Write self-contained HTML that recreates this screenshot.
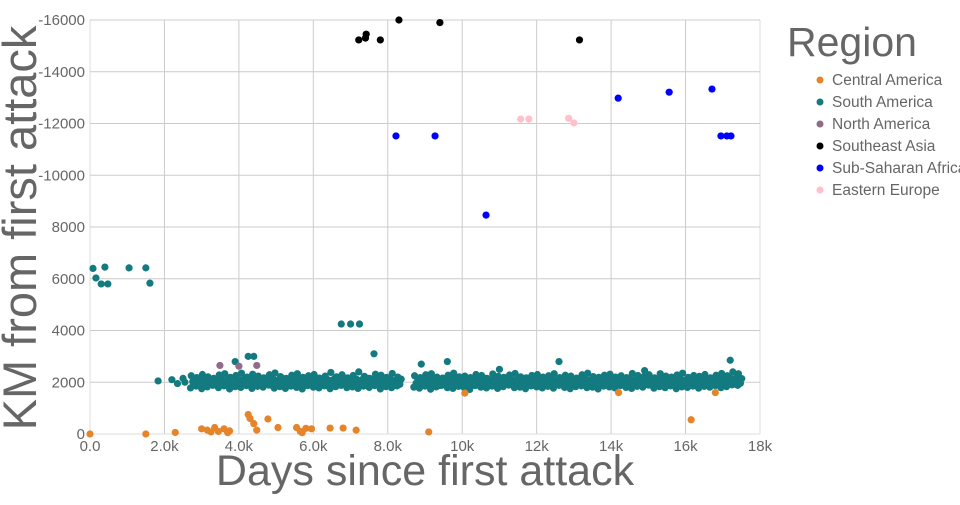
<!DOCTYPE html>
<html><head><meta charset="utf-8"><style>
body{margin:0;background:#fff;width:960px;height:500px;overflow:hidden}
svg text{font-family:"Liberation Sans",sans-serif;fill:#666}
</style></head><body>
<svg id="chart" width="960" height="500">
<g id="grid"></g><g id="marks"></g><g id="axes"></g>
<text x="36" y="228" font-size="47" text-anchor="middle" transform="rotate(-90 36 228)">KM from first attack</text>
<text x="425" y="485" font-size="43" text-anchor="middle">Days since first attack</text>
<text x="787" y="56" font-size="41">Region</text>
<g id="legend"></g>
</svg>
<script>
const regions=["Central America","South America","North America","Southeast Asia","Sub-Saharan Africa","Eastern Europe"];
const colors=["#e6842a","#137b80","#8e6c8a","#000000","#0000ff","#ffc0cb"];
const xTicks=[0,2000,4000,6000,8000,10000,12000,14000,16000,18000];
const xTickLabels=["0.0","2.0k","4.0k","6.0k","8.0k","10k","12k","14k","16k","18k"];
const yTicks=[0,2000,4000,6000,8000,10000,12000,14000,16000];
const yTickLabels=["0","2000","4000","6000","8000","-10000","-12000","-14000","-16000"];
const bandX=[2700,2850,3000,3150,3300,3450,3600,3750,3900,4050,4200,4350,4500,4650,4800,4950,5100,5250,5400,5550,5700,5850,6000,6150,6300,6450,6600,6750,6900,7050,7200,7350,7500,7650,7800,7950,8100,8250,8700,8850,9000,9150,9300,9450,9600,9750,9900,10050,10200,10350,10500,10650,10800,10950,11100,11250,11400,11550,11700,11850,12000,12150,12300,12450,12600,12750,12900,13050,13200,13350,13500,13650,13800,13950,14100,14250,14400,14550,14700,14850,15000,15150,15300,15450,15600,15750,15900,16050,16200,16350,16500,16650,16800,16950,17100,17250,17400];
const bandUpper=[2250,2180,2300,2210,2150,2280,2330,2190,2260,2350,2200,2310,2240,2170,2290,2360,2220,2150,2270,2330,2190,2250,2300,2160,2240,2380,2210,2290,2170,2260,2400,2230,2150,2310,2270,2190,2340,2200,2250,2180,2290,2330,2200,2160,2270,2350,2210,2240,2180,2300,2260,2150,2320,2230,2190,2280,2340,2210,2170,2260,2300,2200,2250,2330,2180,2270,2240,2160,2290,2350,2220,2190,2270,2310,2200,2250,2180,2340,2260,2210,2290,2170,2330,2240,2200,2280,2350,2190,2260,2230,2300,2170,2270,2340,2250,2400,2330];
const bandMid=[2020,1980,2060,1950,2040,2000,1970,2080,2010,1960,2050,2030,1990,2070,1940,2020,2060,1980,2010,2090,1960,2040,2000,1950,2070,2030,1980,2060,2010,1940,2050,2020,1990,2080,1970,2030,2060,2000,1960,2040,2010,1950,2070,1990,2030,2060,1980,2010,1940,2050,2020,1970,2080,2000,1960,2040,2060,1990,2030,1950,2010,2070,1980,2040,2000,1960,2050,2020,1990,2080,1970,2030,2010,1950,2060,2000,2040,1980,2070,2020,1960,2030,2090,1990,2010,2050,1970,2040,2000,2060,1980,2030,2010,2070,2040,2020,2000];
const bandLower=[1780,1850,1750,1820,1880,1790,1860,1740,1830,1800,1870,1760,1840,1810,1890,1770,1830,1760,1850,1800,1740,1870,1810,1780,1860,1750,1830,1880,1790,1820,1760,1850,1800,1870,1740,1830,1790,1860,1810,1770,1850,1730,1820,1880,1790,1760,1840,1800,1720,1870,1810,1780,1850,1760,1830,1890,1790,1810,1750,1860,1820,1780,1840,1770,1880,1800,1750,1830,1860,1790,1810,1740,1850,1820,1780,1870,1800,1760,1840,1810,1890,1770,1830,1790,1860,1750,1820,1800,1850,1770,1840,1810,1870,1790,1830,1900,1880];
const bandHigh=[2120,2090,2140,2100,2130,2080,2150,2110,2100,2140,2090,2130,2120,2080,2150,2100,2130,2090,2140,2110,2080,2120,2150,2100,2090,2130,2140,2110,2080,2120,2100,2150,2090,2130,2110,2140,2080,2120,2100,2130,2090,2150,2110,2080,2140,2120,2100,2130,2090,2110,2150,2080,2120,2140,2100,2090,2130,2110,2150,2080,2120,2100,2140,2090,2130,2110,2080,2150,2120,2100,2090,2140,2130,2110,2080,2120,2150,2100,2090,2140,2110,2130,2080,2120,2100,2150,2090,2130,2110,2140,2080,2120,2100,2130,2150,2170,2140];
const bandLow=[1900,1920,1880,1910,1930,1890,1920,1900,1870,1910,1930,1890,1900,1920,1880,1910,1900,1930,1890,1920,1870,1910,1900,1930,1880,1920,1890,1910,1930,1900,1870,1920,1890,1910,1900,1930,1880,1920,1910,1890,1900,1930,1870,1920,1910,1890,1900,1930,1880,1920,1910,1890,1900,1870,1930,1910,1890,1920,1900,1880,1930,1910,1890,1920,1900,1870,1910,1930,1890,1920,1900,1880,1910,1930,1890,1920,1900,1870,1910,1930,1890,1920,1900,1880,1910,1930,1890,1920,1900,1870,1910,1930,1890,1920,1950,1930,1960];
const otherDays=[80,160,300,400,480,1050,1500,1610,1830,2200,2350,2500,2550,6750,7000,7240,7630,4250,4400,3500,3900,8900,9600,12600,17200,11000,14900,3490,4000,4480,0,1500,2290,3000,3150,3250,3350,3450,3600,3700,3750,4250,4300,4400,4480,4780,5050,5550,5650,5700,5800,5950,6450,6800,7150,9100,10070,14200,16150,16800,7220,7400,7420,7800,8300,9400,13150,8220,9270,10640,14190,15560,16710,16950,17110,17220,11570,11790,12860,13000];
const otherKm=[6400,6030,5800,6450,5800,6420,6420,5830,2050,2100,1950,2150,2000,4250,4250,4250,3100,3000,3000,2200,2800,2700,2800,2800,2850,2500,2450,2650,2620,2650,0,0,60,200,150,80,250,100,200,50,120,750,600,400,150,580,250,250,100,50,220,200,230,230,150,80,1580,1600,550,1600,15230,15300,15450,15230,16000,15900,15230,11520,11520,8460,12980,13210,13330,11520,11520,11520,12170,12170,12200,12020];
const otherRegion=[1,1,1,1,1,1,1,1,1,1,1,1,1,1,1,1,1,1,1,1,1,1,1,1,1,1,1,2,2,2,0,0,0,0,0,0,0,0,0,0,0,0,0,0,0,0,0,0,0,0,0,0,0,0,0,0,0,0,0,0,3,3,3,3,3,3,3,4,4,4,4,4,4,4,4,4,5,5,5,5];
const NS="http://www.w3.org/2000/svg";
const X0=90,X1=760,Y0=434,Y1=20;
const sx=d=>X0+d/18000*(X1-X0);
const sy=k=>Y0-k/16000*(Y0-Y1);
function mk(tag,attrs,parent){const e=document.createElementNS(NS,tag);for(const k in attrs)e.setAttribute(k,attrs[k]);parent.appendChild(e);return e;}
const grid=document.getElementById('grid'),axes=document.getElementById('axes'),marks=document.getElementById('marks'),legend=document.getElementById('legend');
xTicks.forEach((t,i)=>{
  const l=mk('line',{x1:sx(t),x2:sx(t),y1:Y1,y2:Y0,stroke:i==0||i==xTicks.length-1?'#ddd':'#ccc','stroke-width':1},grid);
  
  
  const tx=mk('text',{x:sx(t),y:Y0+17,'font-size':15,'text-anchor':'middle'},axes);tx.textContent=xTickLabels[i];
  
  
});
yTicks.forEach((t,i)=>{
  const l=mk('line',{x1:X0,x2:X1,y1:sy(t),y2:sy(t),stroke:i==0?'#ddd':'#ccc','stroke-width':1},grid);
  
  
  const tx=mk('text',{x:X0-5,y:sy(t)+5,'font-size':15,'text-anchor':'end'},axes);tx.textContent=yTickLabels[i];
  
  
});
function dot(d,k,r){const c=mk('circle',{cx:sx(d),cy:sy(k),r:3.6,fill:colors[r]},marks);
  
  }
bandX.forEach((d,i)=>{dot(d,bandLower[i],1);dot(d+75,bandLow[i],1);dot(d+60,bandMid[i],1);dot(d+110,bandHigh[i],1);dot(d+20,bandUpper[i],1);});
otherDays.forEach((d,i)=>dot(d,otherKm[i],otherRegion[i]));
regions.forEach((r,i)=>{
  const y=80+i*22;
  const g=mk('g',{},legend);
  
  
  mk('circle',{cx:820,cy:y,r:3.5,fill:colors[i]},g);
  const t=mk('text',{x:832,y:y+5,'font-size':15.5},g);t.textContent=r;
});
</script>
</body></html>
